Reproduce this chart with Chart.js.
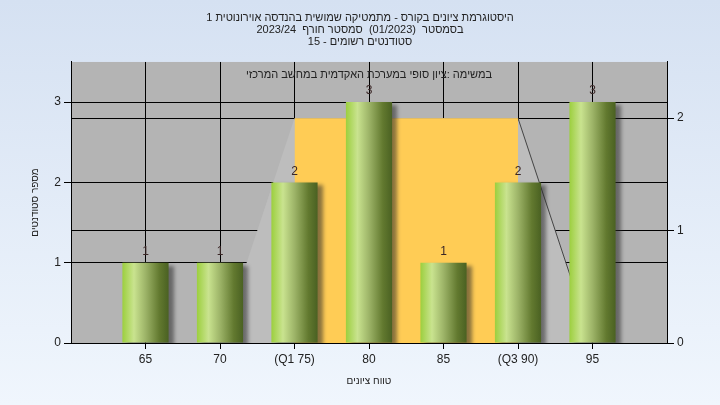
<!DOCTYPE html>
<html>
<head>
<meta charset="utf-8">
<script src="https://cdn.jsdelivr.net/npm/chart.js@4/dist/chart.umd.min.js"></script>
<style>
    body { margin: 0; }
    #wrap { width: 720px; height: 405px; background: linear-gradient(#d5e1f2, #f0f6fd); }
</style>
</head>
<body>
<div id="wrap"><canvas id="histChart" width="720" height="405" dir="rtl"></canvas></div>
<script>
    var grades = [65, 70, 75, 80, 85, 90, 95];
    var counts = [1, 1, 2, 3, 1, 2, 3];
    var gradeLabels = ['65', '70', '\u200E(Q1 75)\u200E', '80', '85', '\u200E(Q3 90)\u200E', '95'];
    var countTicks = [0, 1, 2, 3];
    var rightTicks = [0, 1, 2];

    // box (Q1..Q3) and spread shape, on the right axis
    var boxX = [75, 75, 90, 90];
    var boxY = [0, 2, 2, 0];
    var spreadX = [70, 75, 90, 95];
    var spreadY = [0, 2, 2, 0];

    var titleLines = [
        'היסטוגרמת ציונים בקורס - מתמטיקה שמושית בהנדסה אוירונוטית 1',
        'בסמסטר  (01/2023)  סמסטר חורף  2023/24',
        'סטודנטים רשומים - 15'
    ];
    var innerTitle = 'במשימה :ציון סופי במערכת האקדמית במחשב המרכזי';

    var fontFamily = "'Liberation Sans', 'DejaVu Sans', sans-serif";
    var barPct = 0.62;

    function pts(xs, ys) {
        return xs.map(function(x, i) { return {x: x, y: ys[i]}; });
    }

    function barFill(c) {
        var chart = c.chart;
        if (!chart.chartArea || !chart.scales.x) return '#9c3';
        var xs = chart.scales.x;
        var cx = xs.getPixelForValue(grades[c.dataIndex]);
        var half = (xs.getPixelForValue(grades[1]) - xs.getPixelForValue(grades[0])) * barPct / 2;
        var g = chart.ctx.createLinearGradient(cx - half, 0, cx + half, 0);
        g.addColorStop(0, '#9ccf3e');
        g.addColorStop(0.25, '#c9e38f');
        g.addColorStop(0.5, '#9db468');
        g.addColorStop(0.8, '#62792f');
        g.addColorStop(1, '#4a6122');
        return g;
    }

    var decor = {
        id: 'decor',
        beforeDraw: function(chart) {
            var a = chart.chartArea, ctx = chart.ctx;
            ctx.save();
            ctx.fillStyle = '#b4b4b4';
            ctx.fillRect(a.left, a.top, a.right - a.left, a.bottom - a.top);
            ctx.restore();
        },
        beforeDatasetDraw: function(chart, args) {
            if (args.index !== 0) return;
            var ctx = chart.ctx;
            ctx.save();
            ctx.shadowColor = 'rgba(40,40,40,0.55)';
            ctx.shadowBlur = 4;
            ctx.shadowOffsetX = 5;
            ctx.shadowOffsetY = 3;
        },
        afterDatasetDraw: function(chart, args) {
            if (args.index !== 0) return;
            chart.ctx.restore();
        },
        afterDatasetsDraw: function(chart) {
            var ctx = chart.ctx, a = chart.chartArea;
            var meta = chart.getDatasetMeta(0);
            ctx.save();
            ctx.font = '12px ' + fontFamily;
            ctx.fillStyle = '#3a2626';
            ctx.textAlign = 'center';
            ctx.textBaseline = 'bottom';
            meta.data.forEach(function(bar, i) {
                ctx.fillText(String(counts[i]), bar.x, bar.y - 5);
            });
            ctx.font = '11px ' + fontFamily;
            ctx.fillStyle = '#222';
            ctx.textBaseline = 'middle';
            ctx.direction = 'rtl';
            ctx.fillText(innerTitle, (a.left + a.right) / 2, a.top + 13);
            ctx.restore();
        }
    };

    var histChart = new Chart(document.getElementById('histChart'), {
        type: 'bar',
        data: {
            datasets: [{
                type: 'bar',
                data: pts(grades, counts),
                yAxisID: 'y',
                backgroundColor: barFill,
                borderWidth: 0,
                categoryPercentage: 1,
                barPercentage: barPct,
                order: 1
            }, {
                type: 'line',
                data: pts(boxX, boxY),
                yAxisID: 'y2',
                fill: 'origin',
                backgroundColor: '#ffcc55',
                borderColor: 'rgba(0,0,0,0)',
                borderWidth: 0,
                pointRadius: 0,
                tension: 0,
                order: 2
            }, {
                type: 'line',
                data: pts(spreadX, spreadY),
                yAxisID: 'y2',
                fill: 'origin',
                backgroundColor: '#bdbdbd',
                borderWidth: 1,
                borderColor: '#444',
                segment: {
                    borderColor: function(s) { return s.p0DataIndex === 2 ? '#444' : 'rgba(0,0,0,0)'; }
                },
                pointRadius: 0,
                tension: 0,
                order: 3
            }]
        },
        options: {
            responsive: false,
            animation: false,
            layout: { padding: 0 },
            plugins: {
                legend: { display: false },
                tooltip: { enabled: false },
                title: {
                    display: true,
                    text: titleLines,
                    color: '#222',
                    font: { family: fontFamily, size: 11, weight: 'normal', lineHeight: 1.09 },
                    padding: { top: 12, bottom: 14 }
                }
            },
            scales: {
                x: {
                    type: 'linear',
                    min: 60,
                    max: 100,
                    offset: false,
                    afterBuildTicks: function(scale) {
                        scale.ticks = grades.map(function(v) { return {value: v}; });
                    },
                    afterFit: function(scale) { scale.height = 62; },
                    ticks: {
                        color: '#222',
                        font: { family: fontFamily, size: 12 },
                        padding: 3,
                        maxRotation: 0,
                        autoSkip: false,
                        callback: function(value) {
                            var i = grades.indexOf(value);
                            return i < 0 ? '' : gradeLabels[i];
                        }
                    },
                    grid: { color: '#000', lineWidth: 1, tickLength: 6, offset: false },
                    border: { color: '#000', width: 1 },
                    title: {
                        display: true,
                        text: 'טווח ציונים',
                        color: '#222',
                        font: { family: fontFamily, size: 10 },
                        padding: { top: 0, bottom: 18 }
                    }
                },
                y: {
                    position: 'left',
                    min: 0,
                    max: 3.5,
                    afterBuildTicks: function(scale) {
                        scale.ticks = countTicks.map(function(v) { return {value: v}; });
                    },
                    afterFit: function(scale) { scale.width = 71; },
                    ticks: { color: '#222', font: { family: fontFamily, size: 12 }, padding: 3 },
                    grid: { color: '#000', lineWidth: 1, tickLength: 7 },
                    border: { color: '#000', width: 1 },
                    title: {
                        display: true,
                        text: 'מספר סטודנטים',
                        color: '#222',
                        font: { family: fontFamily, size: 10 },
                        padding: { top: 29, bottom: 0 }
                    }
                },
                y2: {
                    position: 'right',
                    min: 0,
                    max: 2.5,
                    afterBuildTicks: function(scale) {
                        scale.ticks = rightTicks.map(function(v) { return {value: v}; });
                    },
                    afterFit: function(scale) { scale.width = 53; },
                    ticks: { color: '#222', font: { family: fontFamily, size: 12 }, padding: 3 },
                    grid: { color: '#000', lineWidth: 1, tickLength: 7 },
                    border: { color: '#000', width: 1 }
                }
            }
        },
        plugins: [decor]
    });
</script>
</body>
</html>
